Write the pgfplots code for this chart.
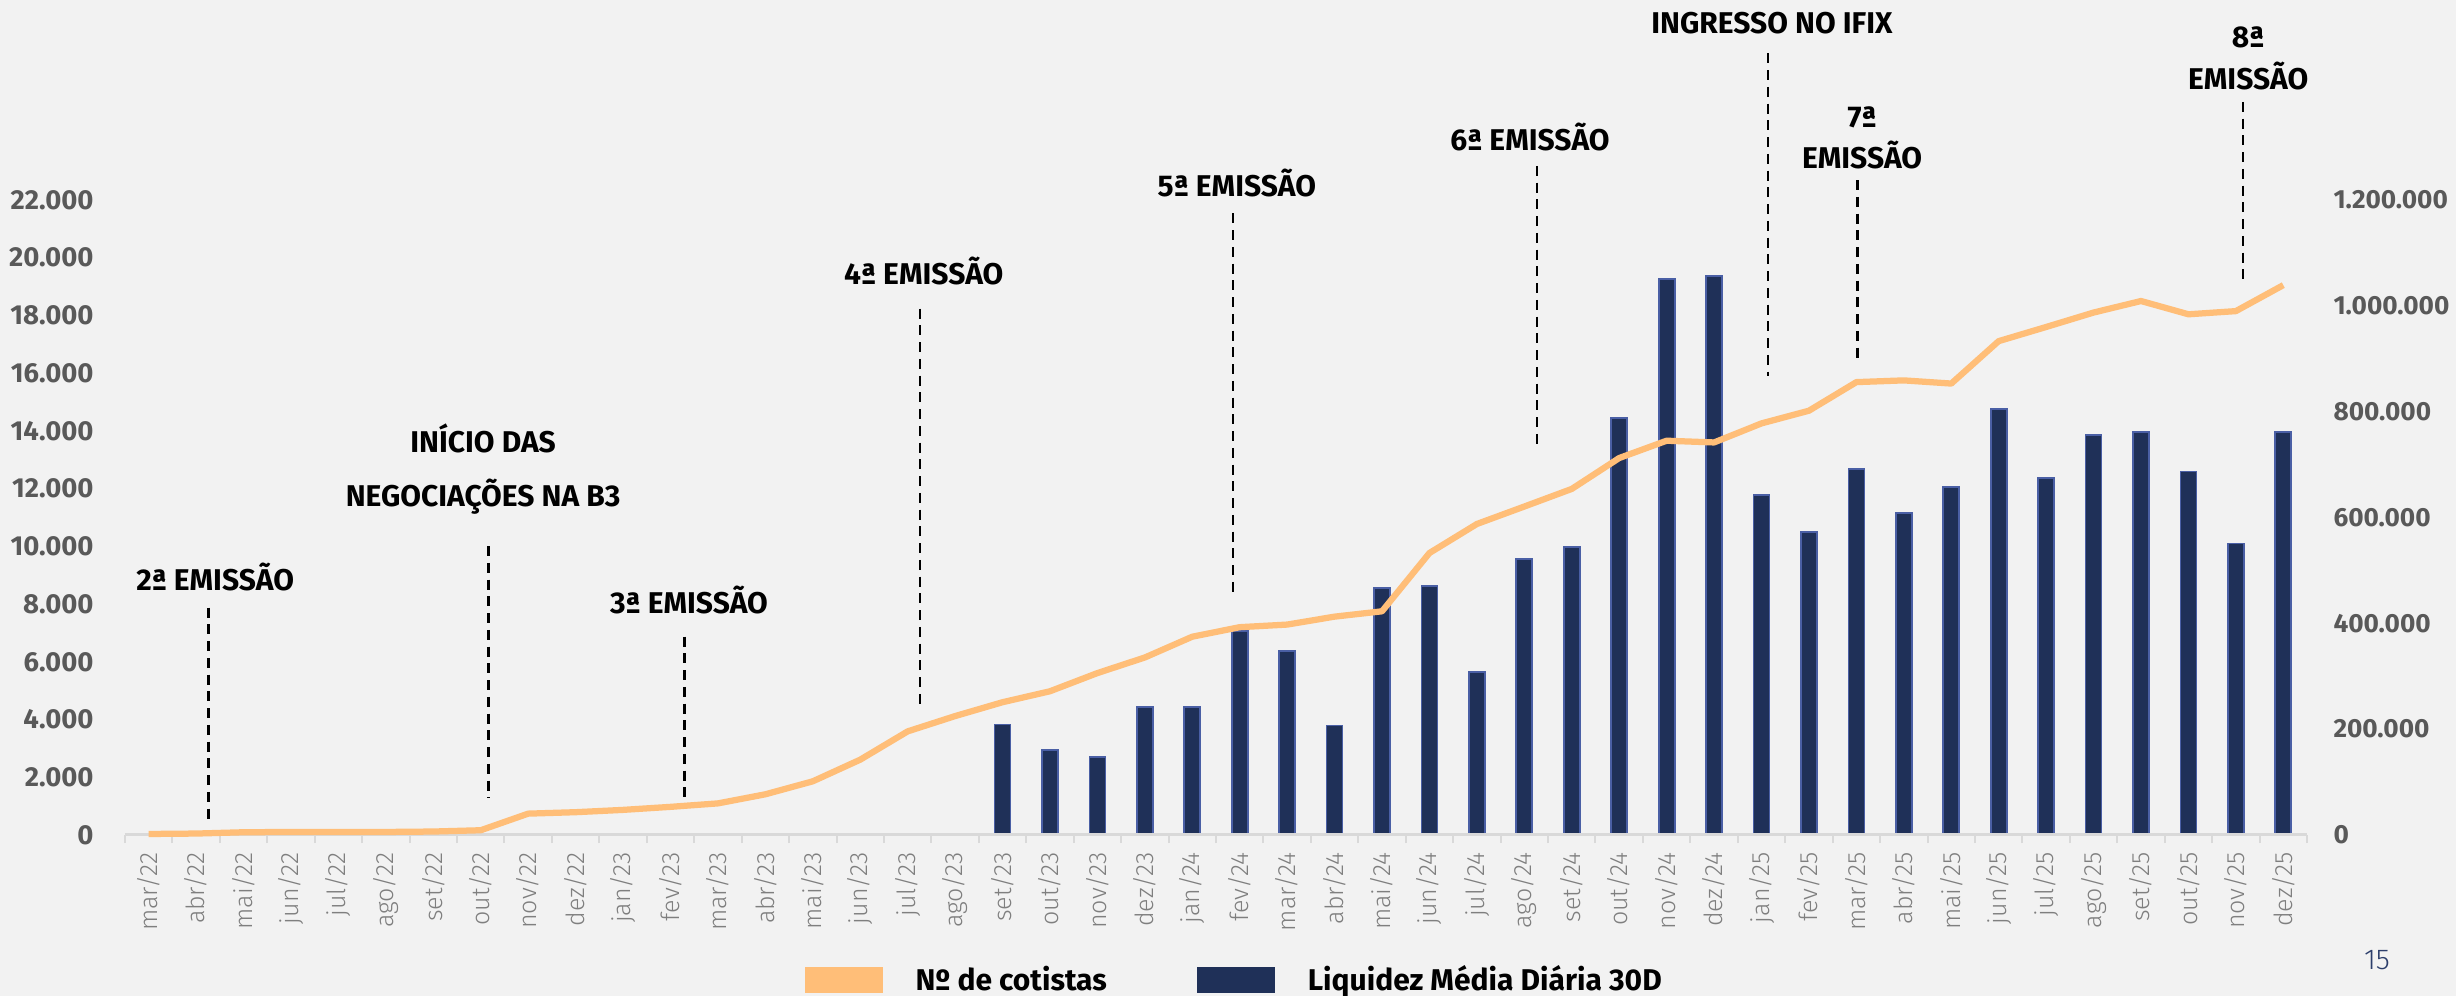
\documentclass[border=0pt]{standalone}
\usepackage{fontspec}
\setmainfont{Fira Sans}
\newfontfamily\lightfont{Fira Sans Light}
\usepackage{pgfplots}
\pgfplotsset{compat=1.18}

\definecolor{bgcol}{HTML}{F2F2F2}
\definecolor{cotcol}{HTML}{FFBE78}
\definecolor{navy}{HTML}{1F3058}
\definecolor{baredge}{HTML}{4A5FA5}
\definecolor{axgray}{HTML}{D9D9D9}
\definecolor{lblgray}{HTML}{595959}
\definecolor{xlblgray}{HTML}{7F7F7F}
\definecolor{pgnum}{HTML}{2C3E6B}

\pgfplotsset{
  common/.style={
    scale only axis, width=872.8pt, height=254pt,
    at={(0,0)}, anchor=south west,
    xmin=-0.5, xmax=45.5, clip=false,
    /pgf/number format/fixed,
    /pgf/number format/1000 sep={.},
    /pgf/number format/assume math mode=true,
    scaled y ticks=false,
  },
}
\tikzset{
  ann/.style={font=\bfseries\fontsize{12}{12}\selectfont, text=black, inner sep=0pt},
  annline/.style={black, line width=1pt, dash pattern=on 4pt off 2.7pt},
}

\begin{document}
\begin{tikzpicture}
\useasboundingbox (-50pt,-64.4pt) rectangle (932.4pt,334pt);
\fill[bgcol] (-50pt,-64.4pt) rectangle (932.4pt,334pt);

% bars: Liquidez Media Diaria 30D (right axis)
\begin{axis}[common,
  ymin=0, ymax=1200000,
  ybar, bar width=6.4pt,
  hide x axis,
  axis y line*=right,
  y axis line style={draw=none},
  major tick length=0pt,
  ytick={0,200000,400000,600000,800000,1000000,1200000},
  yticklabel shift=10.4pt,
  yticklabel style={anchor=west, inner sep=0pt, text=lblgray,
    font=\bfseries\fontsize{10.5}{10.5}\selectfont},
]
\addplot[fill=navy, draw=baredge, line width=0.7pt] coordinates {
  (18,209000) (19,161000) (20,147000) (21,242000) (22,242000) (23,386000)
  (24,347000) (25,207000) (26,467000) (27,470000) (28,308000) (29,522000)
  (30,544000) (31,788000) (32,1050000) (33,1056000) (34,643000) (35,572000)
  (36,691000) (37,609000) (38,657000) (39,805000) (40,675000) (41,756000)
  (42,761000) (43,687000) (44,551000) (45,762000)
};
\end{axis}

% line: No de cotistas (left axis)
\begin{axis}[common,
  ymin=0, ymax=22000,
  axis x line*=bottom, axis y line*=left,
  y axis line style={draw=none},
  x axis line style={draw=axgray, line width=1.2pt, -},
  major tick length=0pt,
  tick align=outside,
  xtick={0,...,45},
  minor xtick={-0.5,0.5,...,45.5},
  minor tick length=3.3pt,
  minor tick style={axgray, line width=0.8pt},
  xticklabels={mar/22,abr/22,mai/22,jun/22,jul/22,ago/22,set/22,out/22,nov/22,dez/22,
    jan/23,fev/23,mar/23,abr/23,mai/23,jun/23,jul/23,ago/23,set/23,out/23,nov/23,dez/23,
    jan/24,fev/24,mar/24,abr/24,mai/24,jun/24,jul/24,ago/24,set/24,out/24,nov/24,dez/24,
    jan/25,fev/25,mar/25,abr/25,mai/25,jun/25,jul/25,ago/25,set/25,out/25,nov/25,dez/25},
  xticklabel shift=6.7pt,
  xticklabel style={rotate=90, anchor=east, inner sep=0pt, text=xlblgray,
    font=\lightfont\fontsize{10}{10}\selectfont},
  ytick={0,2000,4000,6000,8000,10000,12000,14000,16000,18000,20000,22000},
  yticklabel shift=12.4pt,
  yticklabel style={anchor=east, inner sep=0pt, text=lblgray,
    font=\bfseries\fontsize{11}{11}\selectfont},
  legend style={at={(0.509,-0.228)}, anchor=center, draw=none, fill=none,
    legend columns=2, font=\bfseries\fontsize{12}{12}\selectfont,
    /tikz/every odd column/.append style={column sep=11pt},
    /tikz/every even column/.append style={column sep=34pt}},
]
\addplot[cotcol, line width=2.5pt, line join=round, forget plot] coordinates {
  (0,35) (1,50) (2,95) (3,105) (4,105) (5,105) (6,120) (7,165) (8,740) (9,790)
  (10,870) (11,975) (12,1095) (13,1410) (14,1860) (15,2610) (16,3590) (17,4120)
  (18,4600) (19,4980) (20,5610) (21,6150) (22,6870) (23,7200) (24,7290) (25,7565)
  (26,7750) (27,9770) (28,10775) (29,11380) (30,11990) (31,13060) (32,13660)
  (33,13600) (34,14260) (35,14700) (36,15690) (37,15750) (38,15640) (39,17110)
  (40,17600) (41,18100) (42,18500) (43,18040) (44,18150) (45,19050)
};
\addlegendimage{legend image code/.code={\fill[cotcol] (0pt,-5pt) rectangle (31pt,5pt);}}
\addlegendentry{Nº de cotistas}
\addlegendimage{legend image code/.code={\fill[navy] (0pt,-5pt) rectangle (31pt,5pt);}}
\addlegendentry{Liquidez Média Diária 30D}

% annotations
\draw[annline] (axis cs:1.26,7875) -- (axis cs:1.26,450);
\node[ann] at (axis cs:1.40,8950) {2ª EMISSÃO};

\draw[annline] (axis cs:7.16,10010) -- (axis cs:7.16,1280);
\node[ann] at (axis cs:7.05,13750) {INÍCIO DAS};
\node[ann] at (axis cs:7.05,11710) {NEGOCIAÇÕES NA B3};

\draw[annline] (axis cs:11.30,6870) -- (axis cs:11.30,1330);
\node[ann] at (axis cs:11.39,8140) {3ª EMISSÃO};

\draw[annline] (axis cs:16.26,18240) -- (axis cs:16.26,4330);
\node[ann] at (axis cs:16.34,19540) {4ª EMISSÃO};

\draw[annline] (axis cs:22.86,21540) -- (axis cs:22.86,8410);
\node[ann] at (axis cs:22.94,22600) {5ª EMISSÃO};

\draw[annline] (axis cs:29.27,23180) -- (axis cs:29.27,13480);
\node[ann] at (axis cs:29.12,24170) {6ª EMISSÃO};

\draw[annline] (axis cs:34.14,27080) -- (axis cs:34.14,15910);
\node[ann] at (axis cs:34.22,28140) {INGRESSO NO IFIX};

\draw[annline] (axis cs:36.02,22690) -- (axis cs:36.02,16490);
\node[ann] at (axis cs:36.12,24880) {7ª};
\node[ann] at (axis cs:36.12,23560) {EMISSÃO};

\draw[annline] (axis cs:44.15,25400) -- (axis cs:44.15,19250);
\node[ann] at (axis cs:44.26,27650) {8ª};
\node[ann] at (axis cs:44.26,26290) {EMISSÃO};
\end{axis}

\node[text=pgnum, font=\lightfont\fontsize{11.5}{11.5}\selectfont] at (900.8pt,-50pt) {15};
\end{tikzpicture}
\end{document}
